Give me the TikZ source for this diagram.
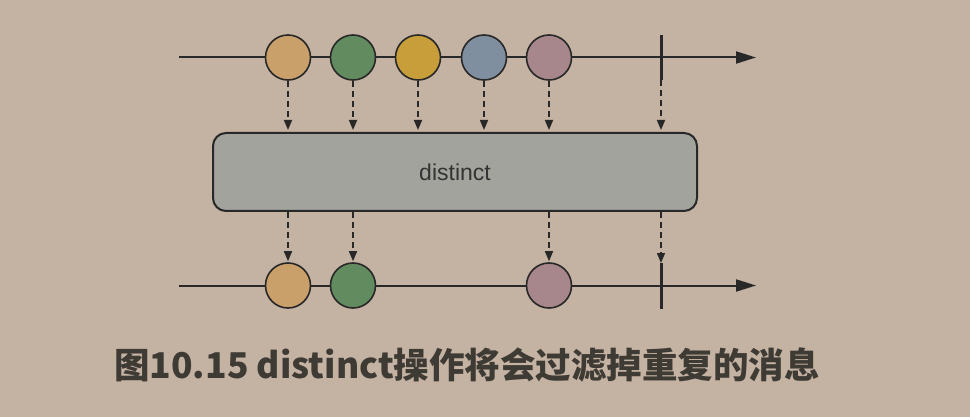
\documentclass[tikz,border=0pt]{standalone}
\usepackage{fontspec}
\setmainfont{Liberation Sans}
\newfontfamily\cjk{Noto Sans CJK SC}
\usetikzlibrary{%
  calc,%
  arrows.meta%
}
\definecolor{bgc}{RGB}{196,178,162}
\definecolor{linec}{RGB}{40,40,40}
\definecolor{boxc}{RGB}{163,163,157}
\definecolor{mA}{RGB}{201,160,106}
\definecolor{mB}{RGB}{98,140,95}
\definecolor{mC}{RGB}{200,158,58}
\definecolor{mD}{RGB}{128,143,160}
\definecolor{mE}{RGB}{167,135,140}
\definecolor{capc}{RGB}{62,58,52}
\tikzset{
  marble/.style={circle,draw=linec,line width=1.6pt,minimum size=45pt,inner sep=0pt},
  flow/.style={draw=linec,line width=2pt,-{Triangle[length=20pt,width=12pt]}},
  drop/.style={draw=linec,line width=1.5pt,dash pattern=on 6pt off 4pt,-{Triangle[length=10pt,width=8pt]}},
  endmark/.style={draw=linec,line width=3pt}
}
\begin{document}
\begin{tikzpicture}[x=1pt,y=-1pt]%, every node/.style={inner sep=0pt}]

\path[use as bounding box,fill=bgc] (0,0) rectangle (970,417);

% source line
\coordinate (ts) at (179,57.5);
\coordinate (te) at (756,57.5);
\draw[flow] (ts) -- (te);
\coordinate (tk1) at (661,35);
\coordinate (tk2) at (661,80);
\draw[endmark] (tk1) -- (tk2);
\foreach \n/\x/\c in {a/288/mA,b/353/mB,c/418/mC,d/484/mD,e/549/mE}
  \node[marble,fill=\c] (t\n) at (\x,57.5) {};

% operator
\node[draw=linec,line width=2pt,rounded corners=13pt,fill=boxc,
  minimum width=484pt,minimum height=78pt,text=black!80] (op) at (455,172)
  {\fontsize{23}{23}\selectfont distinct};

% result line
\coordinate (bs) at (179,285.5);
\coordinate (be) at (756,285.5);
\draw[flow] (bs) -- (be);
\coordinate (bk1) at (661,263);
\coordinate (bk2) at (661,309);
\draw[endmark] (bk1) -- (bk2);
\foreach \n/\x/\c in {a/288/mA,b/353/mB,e/549/mE}
  \node[marble,fill=\c] (b\n) at (\x,285.5) {};

% into the operator
\foreach \n in {ta,tb,tc,td,te}
  \draw[drop,shorten >=2pt] (\n.south) -- (op.north -| \n);
\draw[drop,shorten >=2pt] (tk2) -- (op.north -| tk2);

% out of the operator
\foreach \n in {ba,bb,be}
  \draw[drop,shorten >=1pt] (op.south -| \n) -- (\n.north);
\draw[drop] (op.south -| bk1) -- (bk1);

\node[anchor=base,text=capc,inner sep=0pt] (cap) at (467,378)
  {\cjk\bfseries\fontsize{35.5}{35.5}\selectfont 图10.15 distinct操作将会过滤掉重复的消息};
\end{tikzpicture}
\end{document}
